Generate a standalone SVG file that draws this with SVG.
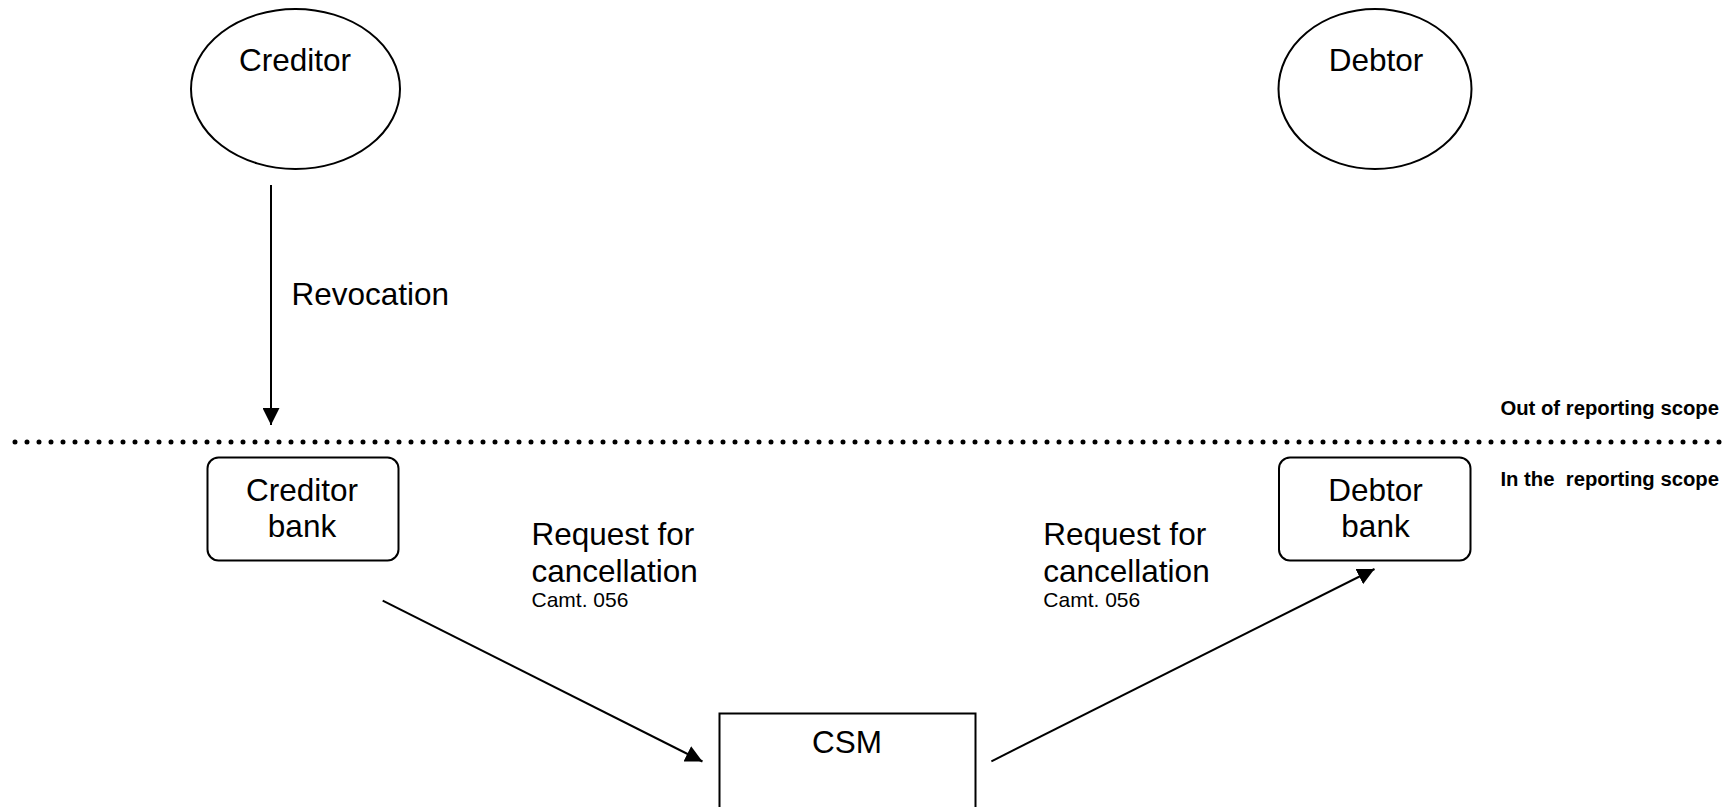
<svg xmlns="http://www.w3.org/2000/svg" width="1735" height="807" viewBox="0 0 1735 807">
<style>
  .shape { fill: #ffffff; stroke: #000000; stroke-width: 2; }
  .t { font-family: "Liberation Sans", Arial, sans-serif; fill: #000000; }
  .big { font-size: 31.5px; }
  .small { font-size: 21px; }
  .scope { font-size: 20.3px; font-weight: bold; }
  .conn { stroke: #000000; stroke-width: 2; fill: none; marker-end: url(#arrow); }
</style>
<defs>
  <marker id="arrow" viewBox="0 0 10 10" refX="10" refY="5" markerUnits="userSpaceOnUse" markerWidth="17" markerHeight="17" orient="auto">
    <path d="M0,0 L10,5 L0,10 Z" fill="#000000"/>
  </marker>
</defs>
<rect width="1735" height="807" fill="#ffffff"/>

<g id="creditor">
  <ellipse class="shape" cx="295.5" cy="89" rx="104.5" ry="80"/>
  <text class="t big" x="295" y="70.5" text-anchor="middle">Creditor</text>
</g>
<g id="debtor">
  <ellipse class="shape" cx="1375" cy="89" rx="96.5" ry="80"/>
  <text class="t big" x="1376" y="70.5" text-anchor="middle">Debtor</text>
</g>
<g id="creditor-bank">
  <rect class="shape" x="207.5" y="457.5" width="191" height="103" rx="11"/>
  <text class="t big" x="302" y="500.5" text-anchor="middle">Creditor</text>
  <text class="t big" x="302" y="536.5" text-anchor="middle">bank</text>
</g>
<g id="debtor-bank">
  <rect class="shape" x="1279" y="457.5" width="191.5" height="103" rx="11"/>
  <text class="t big" x="1375.5" y="500.5" text-anchor="middle">Debtor</text>
  <text class="t big" x="1375.5" y="536.5" text-anchor="middle">bank</text>
</g>
<g id="csm">
  <rect class="shape" x="719.5" y="713.5" width="256" height="110"/>
  <text class="t big" x="847" y="753" text-anchor="middle">CSM</text>
</g>
<g id="scope-divider">
  <line x1="15" y1="442" x2="1720" y2="442" stroke="#000000" stroke-width="5" stroke-linecap="round" stroke-dasharray="0 12"/>
  <text class="t scope" x="1719" y="415" text-anchor="end">Out of reporting scope</text>
  <text class="t scope" x="1719" y="486" text-anchor="end" xml:space="preserve">In the  reporting scope</text>
</g>
<g id="connectors">
  <line class="conn" x1="271" y1="185" x2="271" y2="425"/>
  <text class="t big" x="291.5" y="305">Revocation</text>
  <line class="conn" x1="382.7" y1="600.7" x2="702.5" y2="761.5"/>
  <text class="t big" x="531.5" y="545">Request for</text>
  <text class="t big" x="531.5" y="581.5">cancellation</text>
  <text class="t small" x="531.5" y="607">Camt. 056</text>
  <line class="conn" x1="991.4" y1="761.3" x2="1374.5" y2="569"/>
  <text class="t big" x="1043.3" y="545">Request for</text>
  <text class="t big" x="1043.3" y="581.5">cancellation</text>
  <text class="t small" x="1043.3" y="607">Camt. 056</text>
</g>
</svg>
